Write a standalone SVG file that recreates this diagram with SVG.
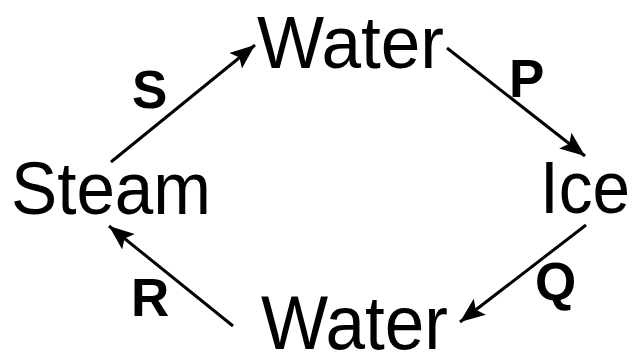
<svg xmlns="http://www.w3.org/2000/svg" width="641" height="354" viewBox="0 0 641 354">
<style>
.node{font-family:"Liberation Sans",Arial,sans-serif;font-size:74px;fill:#000}
.lbl{font-family:"Liberation Sans",Arial,sans-serif;font-size:53px;font-weight:bold;fill:#000}
.edge{stroke:#000;stroke-width:3;fill:none;marker-end:url(#ah)}
</style>
<defs>
<marker id="ah" markerUnits="userSpaceOnUse" markerWidth="28" markerHeight="22" refX="25" refY="10" orient="auto">
<path d="M0,0 L25,10 L0,20 L5,10 z" fill="#000"/>
</marker>
</defs>
<rect width="641" height="354" fill="#fff"/>
<g id="water-top"><text class="node" x="257" y="68" textLength="187" lengthAdjust="spacingAndGlyphs">Water</text></g>
<g id="ice"><text class="node" x="540" y="213" textLength="90" lengthAdjust="spacingAndGlyphs">Ice</text></g>
<g id="water-bottom"><text class="node" x="261" y="349" textLength="187" lengthAdjust="spacingAndGlyphs" style="font-size:76px">Water</text></g>
<g id="steam"><text class="node" x="11" y="214" textLength="200" lengthAdjust="spacingAndGlyphs">Steam</text></g>
<g id="connectors">
<line class="edge" x1="111" y1="162" x2="255" y2="45"/>
<line class="edge" x1="447" y1="48" x2="585" y2="156"/>
<line class="edge" x1="586" y1="225" x2="460" y2="322"/>
<line class="edge" x1="233" y1="326" x2="109" y2="226"/>
<text class="lbl" x="132" y="108">S</text>
<text class="lbl" x="509" y="97">P</text>
<text class="lbl" x="535" y="300">Q</text>
<text class="lbl" x="131" y="316">R</text>
</g>
</svg>
